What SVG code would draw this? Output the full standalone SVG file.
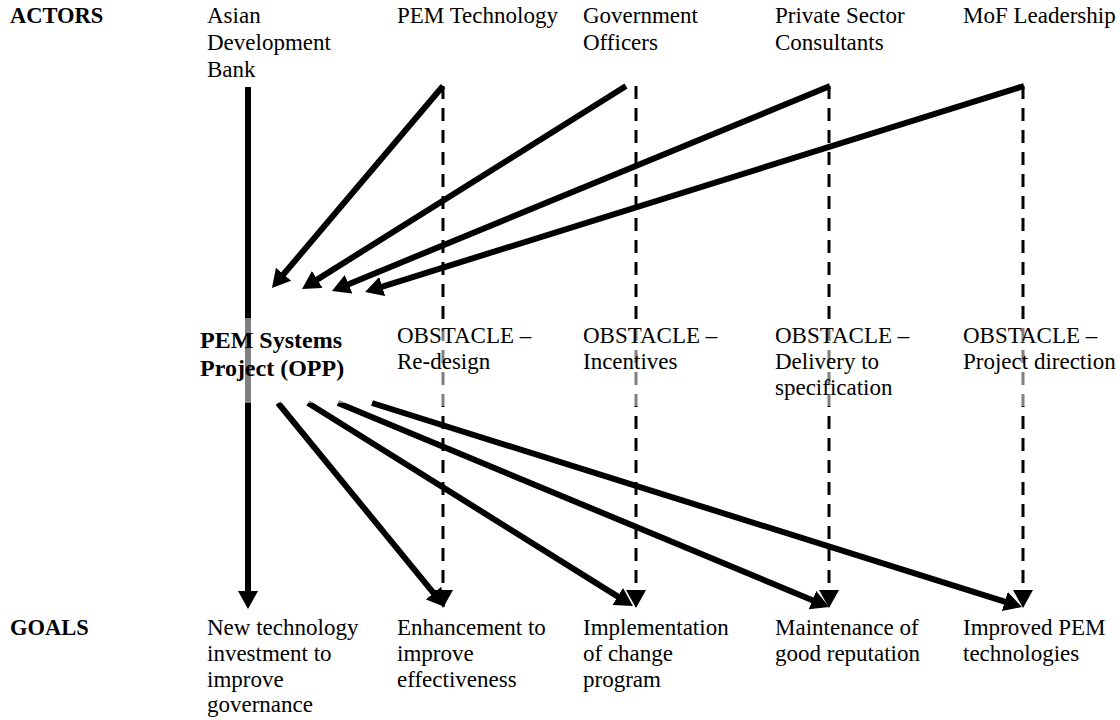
<svg xmlns="http://www.w3.org/2000/svg" width="1120" height="720" viewBox="0 0 1120 720">
  <defs>
    <marker id="ah" markerUnits="userSpaceOnUse" markerWidth="18" markerHeight="20" refX="4" refY="10" orient="auto">
      <path d="M0,0 L18,10 L0,20 z" fill="#000"/>
    </marker>
  </defs>
  <style>
    text { font-family: "Liberation Serif", "Times New Roman", serif; font-size: 23px; fill: #000; }
    .lbl { font-weight: bold; font-size: 22.5px; }
    .big { font-weight: bold; font-size: 24px; }
    .solid { stroke: #000; stroke-width: 6; fill: none; marker-end: url(#ah); }
    .dash { stroke: #000; stroke-width: 3; fill: none; stroke-dasharray: 13 9; marker-end: url(#ah); }
    .veil { fill: #fff; fill-opacity: 0.5; }
  </style>
  <rect width="1120" height="720" fill="#fff"/>

  <g id="connectors">
    <line class="solid" x1="248" y1="87" x2="248" y2="595"/>
    <line class="dash" x1="443" y1="86" x2="443" y2="594"/>
    <line class="dash" x1="636" y1="86" x2="636" y2="594"/>
    <line class="dash" x1="829" y1="86" x2="829" y2="594"/>
    <line class="dash" x1="1023" y1="86" x2="1023" y2="594"/>
    <line class="solid" x1="443" y1="86" x2="281" y2="277.3"/>
    <line class="solid" x1="626" y1="86" x2="313.9" y2="281.6"/>
    <line class="solid" x1="830" y1="86" x2="344.9" y2="285.7"/>
    <line class="solid" x1="1024" y1="86" x2="378.4" y2="287.8"/>
    <line class="solid" x1="278" y1="403" x2="436.1" y2="596.2"/>
    <line class="solid" x1="308" y1="403" x2="621.1" y2="598.6"/>
    <line class="solid" x1="338" y1="403" x2="816.1" y2="601.7"/>
    <line class="solid" x1="372" y1="403" x2="1008.6" y2="602.8"/>
  </g>

  <g id="row-labels">
    <text class="lbl" x="10" y="23">ACTORS</text>
    <text class="lbl" x="10" y="635">GOALS</text>
  </g>

  <g id="actor-adb">
    <text x="207" y="23">Asian</text>
    <text x="207" y="50">Development</text>
    <text x="207" y="77">Bank</text>
  </g>
  <g id="actor-pemtech">
    <text x="397" y="23">PEM Technology</text>
  </g>
  <g id="actor-gov">
    <text x="583" y="23">Government</text>
    <text x="583" y="50">Officers</text>
  </g>
  <g id="actor-private">
    <text x="775" y="23">Private Sector</text>
    <text x="775" y="50">Consultants</text>
  </g>
  <g id="actor-mof">
    <text x="963" y="23">MoF Leadership</text>
  </g>

  <g id="project">
    <rect class="veil" x="200" y="318" width="160" height="85"/>
    <text class="big" x="200" y="348">PEM Systems</text>
    <text class="big" x="200" y="376">Project (OPP)</text>
  </g>
  <g id="obstacle-redesign">
    <rect class="veil" x="395" y="324" width="160" height="82"/>
    <text x="397" y="343">OBSTACLE –</text>
    <text x="397" y="369">Re-design</text>
  </g>
  <g id="obstacle-incentives">
    <rect class="veil" x="581" y="324" width="160" height="82"/>
    <text x="583" y="343">OBSTACLE –</text>
    <text x="583" y="369">Incentives</text>
  </g>
  <g id="obstacle-delivery">
    <rect class="veil" x="773" y="324" width="160" height="82"/>
    <text x="775" y="343">OBSTACLE –</text>
    <text x="775" y="369">Delivery to</text>
    <text x="775" y="395">specification</text>
  </g>
  <g id="obstacle-direction">
    <rect class="veil" x="961" y="324" width="158" height="82"/>
    <text x="963" y="343">OBSTACLE –</text>
    <text x="963" y="369">Project direction</text>
  </g>

  <g id="goal-investment">
    <text x="207" y="635">New technology</text>
    <text x="207" y="661">investment to</text>
    <text x="207" y="687">improve</text>
    <text x="207" y="712">governance</text>
  </g>
  <g id="goal-enhancement">
    <text x="397" y="635">Enhancement to</text>
    <text x="397" y="661">improve</text>
    <text x="397" y="687">effectiveness</text>
  </g>
  <g id="goal-implementation">
    <text x="583" y="635">Implementation</text>
    <text x="583" y="661">of change</text>
    <text x="583" y="687">program</text>
  </g>
  <g id="goal-reputation">
    <text x="775" y="635">Maintenance of</text>
    <text x="775" y="661">good reputation</text>
  </g>
  <g id="goal-pem">
    <text x="963" y="635">Improved PEM</text>
    <text x="963" y="661">technologies</text>
  </g>
</svg>
